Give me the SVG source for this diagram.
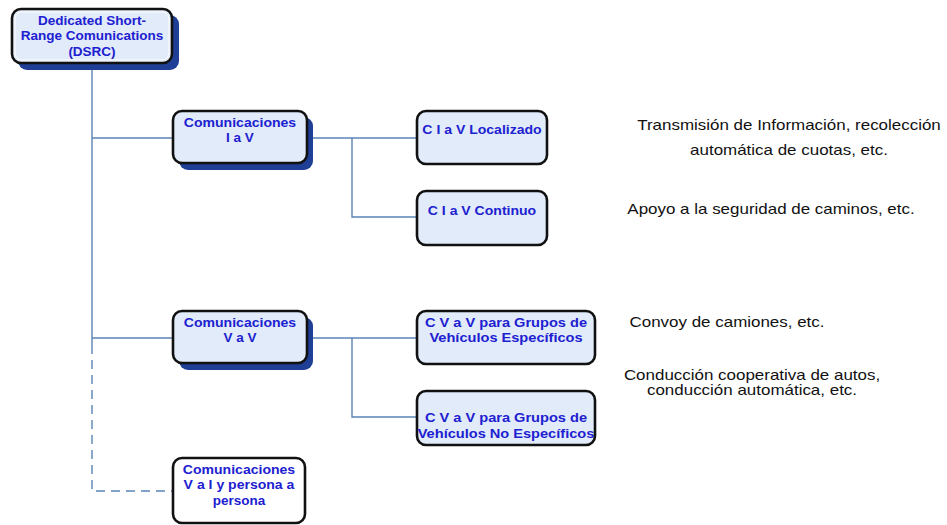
<svg xmlns="http://www.w3.org/2000/svg" width="947" height="525" viewBox="0 0 947 525">
<style>
.box{fill:#e1ebfa;stroke:#111;stroke-width:2.6}
.wbox{fill:#fff;stroke:#111;stroke-width:2.6}
.shadow{fill:#1f3f96}
.inner{fill:none;stroke:#fff;stroke-width:1}
.nt{font-family:"Liberation Sans",Arial,sans-serif;font-size:13.5px;font-weight:bold;fill:#2020d0;text-anchor:middle}
.an{font-family:"Liberation Sans",Arial,sans-serif;font-size:15px;fill:#111;text-anchor:middle}
.ln{fill:none;stroke:#5b84b5;stroke-width:1.4}
.dash{stroke-dasharray:9,6}
</style>
<rect width="947" height="525" fill="#fff"/>
<g id="connectors">
<path class="ln" d="M92,64 V345 M92,138 H173 M92,338 H173 M307,138 H417 M352,138 V217 H417 M307,338 H417 M352,338 V417 H417"/>
<path class="ln dash" d="M92,345 V491 H173"/>
</g>
<g id="dsrc">
<rect class="shadow" x="18" y="15" width="161" height="55" rx="9"/>
<rect class="box" x="12" y="9" width="160" height="54" rx="9"/>
<rect class="inner" x="15" y="12" width="154" height="48" rx="7"/>
<text class="nt" x="92" y="25">Dedicated Short-</text>
<text class="nt" x="92" y="40">Range Comunications</text>
<text class="nt" x="92" y="56">(DSRC)</text>
</g>
<g id="com-iav">
<rect class="shadow" x="179" y="117" width="134" height="53" rx="9"/>
<rect class="box" x="173" y="111" width="134" height="52" rx="9"/>
<text class="nt" transform="translate(240,127) scale(1.04,1)">Comunicaciones</text>
<text class="nt" x="240" y="142">I a V</text>
</g>
<g id="com-vav">
<rect class="shadow" x="179" y="317" width="134" height="53" rx="9"/>
<rect class="box" x="173" y="311" width="134" height="52" rx="9"/>
<text class="nt" transform="translate(240,327) scale(1.04,1)">Comunicaciones</text>
<text class="nt" x="240" y="342">V a V</text>
</g>
<g id="com-vai">
<rect class="wbox" x="173" y="458" width="132" height="65" rx="9"/>
<text class="nt" transform="translate(239,474) scale(1.04,1)">Comunicaciones</text>
<text class="nt" transform="translate(239,489) scale(1.04,1)">V a I y persona a</text>
<text class="nt" x="239" y="505">persona</text>
</g>
<g id="localizado">
<rect class="box" x="417" y="111" width="130" height="53" rx="9"/>
<text class="nt" transform="translate(482,134) scale(1.04,1)">C I a V Localizado</text>
</g>
<g id="continuo">
<rect class="box" x="417" y="191" width="130" height="54" rx="9"/>
<text class="nt" transform="translate(482,215) scale(1.04,1)">C I a V Continuo</text>
</g>
<g id="especificos">
<rect class="box" x="417" y="311" width="178" height="53" rx="9"/>
<text class="nt" transform="translate(506,327) scale(1.08,1)">C V a V para Grupos de</text>
<text class="nt" transform="translate(506,342) scale(1.08,1)">Vehículos Específicos</text>
</g>
<g id="no-especificos">
<rect class="box" x="417" y="391" width="178" height="54" rx="9"/>
<text class="nt" transform="translate(506,422) scale(1.08,1)">C V a V para Grupos de</text>
<text class="nt" transform="translate(506,438) scale(1.08,1)">Vehículos No Específicos</text>
</g>
<g id="annotations">
<text class="an" transform="translate(789,130) scale(1.13,1)">Transmisión de Información, recolección</text>
<text class="an" transform="translate(789,155) scale(1.13,1)">automática de cuotas, etc.</text>
<text class="an" transform="translate(771,214) scale(1.13,1)">Apoyo a la seguridad de caminos, etc.</text>
<text class="an" transform="translate(727,327) scale(1.13,1)">Convoy de camiones, etc.</text>
<text class="an" transform="translate(752,380) scale(1.13,1)">Conducción cooperativa de autos,</text>
<text class="an" transform="translate(752,395) scale(1.13,1)">conducción automática, etc.</text>
</g>
</svg>
